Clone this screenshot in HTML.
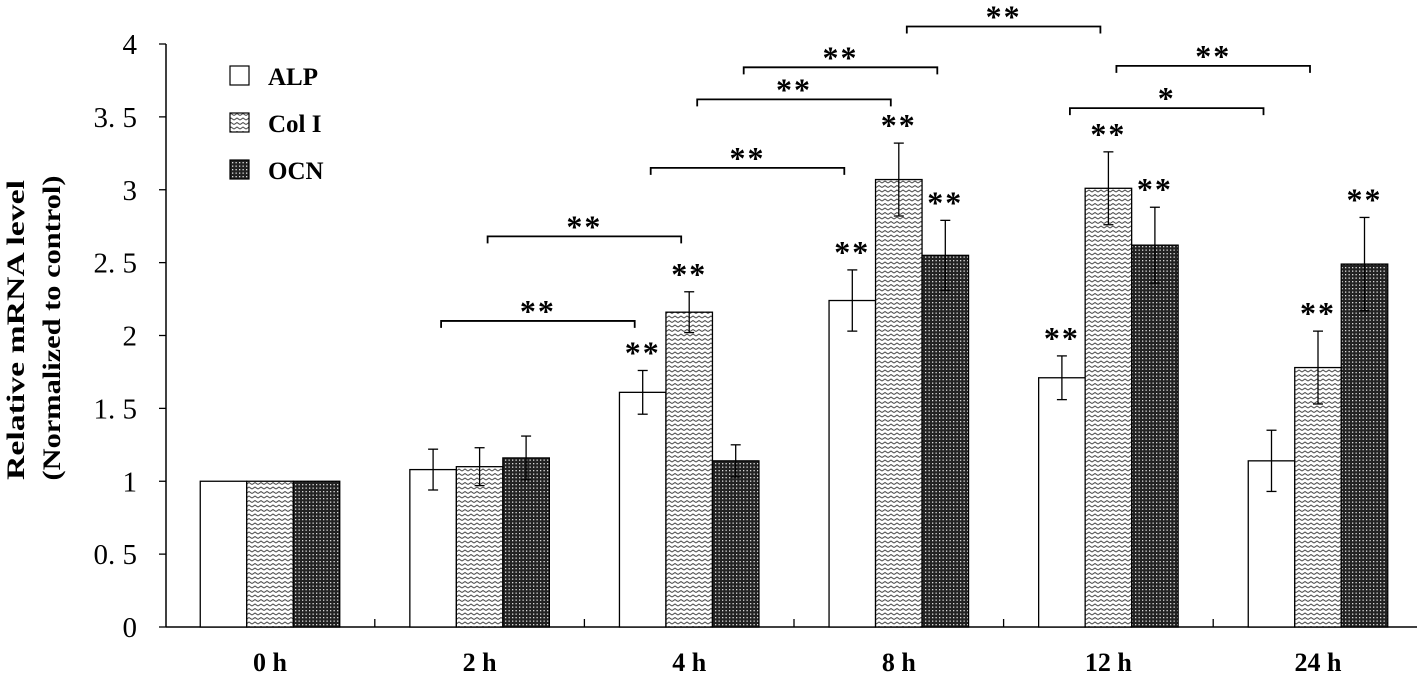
<!DOCTYPE html>
<html><head><meta charset="utf-8"><style>
body{margin:0;background:#fff;width:1417px;height:680px;overflow:hidden}
svg text{font-family:"Liberation Serif","Noto Serif CJK SC",serif}
</style></head><body>
<svg id="chart" width="1417" height="680" viewBox="0 0 1417 680" xmlns="http://www.w3.org/2000/svg">
<defs>
<pattern id="zig" width="6" height="4.5" patternUnits="userSpaceOnUse">
<rect width="6" height="4.5" fill="#fff"/>
<path d="M0,3 L3,1 L6,3" fill="none" stroke="#555" stroke-width="1.1"/>
</pattern>
<pattern id="dots" width="3.5" height="3.5" patternUnits="userSpaceOnUse">
<rect width="3.5" height="3.5" fill="#222"/>
<rect x="1" y="1" width="1.3" height="1.3" fill="#ddd"/>
</pattern>
</defs>
<g id="plot"></g>
</svg>
<script>
const categories=["0 h","2 h","4 h","8 h","12 h","24 h"];
const seriesNames=["ALP","Col I","OCN"];
const alp=[1,1.08,1.61,2.24,1.71,1.14];
const col=[1,1.10,2.16,3.07,3.01,1.78];
const ocn=[1,1.16,1.14,2.55,2.62,2.49];
const alpErr=[0,0.14,0.15,0.21,0.15,0.21];
const colErr=[0,0.13,0.14,0.25,0.25,0.25];
const ocnErr=[0,0.15,0.11,0.24,0.26,0.32];
const yTicks=[0,0.5,1,1.5,2,2.5,3,3.5,4];
const yTickLabels=["0","0. 5","1","1. 5","2","2. 5","3","3. 5","4"];
// significance marks above bars: [category, series, label]
const barStars=[[2,0,"**"],[2,1,"**"],[3,0,"**"],[3,1,"**"],[3,2,"**"],[4,0,"**"],[4,1,"**"],[4,2,"**"],[5,1,"**"],[5,2,"**"]];
// brackets: [cat1, series1, cat2, series2, value level, label]
const brackets=[[1,0,2,0,2.1,"**"],[1,1,2,1,2.68,"**"],[2,0,3,0,3.15,"**"],[2,1,3,1,3.62,"**"],[2,2,3,2,3.84,"**"],[3,1,4,1,4.12,"**"],[4,0,5,0,3.56,"*"],[4,1,5,1,3.85,"**"]];

const NS="http://www.w3.org/2000/svg";
const g=document.getElementById("plot");
const X0=166,Y0=627,Y4=44;
const y=v=>Y0-(Y0-Y4)*v/4;
const catX=i=>270+i*209.6;
const BW=46.5;
const barX=(i,s)=>catX(i)+(s-1.5)*BW;
function el(t,a,txt){const e=document.createElementNS(NS,t);for(const k in a)e.setAttribute(k,a[k]);if(txt!=null)e.textContent=txt;g.appendChild(e);return e;}

let e=el("line",{x1:X0,y1:Y4,x2:X0,y2:Y0,stroke:"#000","stroke-width":1.5});


e=el("line",{x1:X0,y1:Y0,x2:1417,y2:Y0,stroke:"#000","stroke-width":1.5});


yTicks.forEach((v,k)=>{
 el("line",{x1:X0-7,y1:y(v),x2:X0,y2:y(v),stroke:"#000","stroke-width":1.3});
 const t=el("text",{x:137,y:y(v)+10,"font-size":29,"text-anchor":"end"},yTickLabels[k]);
 
 
});
for(let i=1;i<6;i++){const xx=catX(i)-104.8;el("line",{x1:xx,y1:Y0-8,x2:xx,y2:Y0,stroke:"#000","stroke-width":1.3});}
categories.forEach((c,i)=>{
 const t=el("text",{x:catX(i),y:671,"font-size":26,"font-weight":"bold","text-anchor":"middle"},c);
 
 
});
let yt=el("text",{transform:"translate(24,330) rotate(-90)","font-size":25,"font-weight":"bold","text-anchor":"middle",textLength:300,lengthAdjust:"spacingAndGlyphs"},"Relative mRNA  level");


yt=el("text",{transform:"translate(60,328) rotate(-90)","font-size":25,"font-weight":"bold","text-anchor":"middle",textLength:305,lengthAdjust:"spacingAndGlyphs"},"(Normalized to control)");



const vals=[alp,col,ocn],errs=[alpErr,colErr,ocnErr],fills=["#fff","url(#zig)","url(#dots)"];
categories.forEach((c,i)=>{
 for(let s=0;s<3;s++){
  const v=vals[s][i],x=barX(i,s);
  const r=el("rect",{x:x,y:y(v),width:BW,height:Y0-y(v),fill:fills[s],stroke:"#000","stroke-width":1.3});
  
  
  const er=errs[s][i];
  if(er>0){const cx=x+BW/2;
   el("line",{x1:cx,y1:y(v+er),x2:cx,y2:y(v-er),stroke:"#000","stroke-width":1.3});
   el("line",{x1:cx-5,y1:y(v+er),x2:cx+5,y2:y(v+er),stroke:"#000","stroke-width":1.3});
   el("line",{x1:cx-5,y1:y(v-er),x2:cx+5,y2:y(v-er),stroke:"#000","stroke-width":1.3});
  }
 }
});
barStars.forEach(([i,s,l])=>{
 const top=vals[s][i]+errs[s][i];
 const t=el("text",{x:barX(i,s)+BW/2,y:y(top)-7,"font-size":32,"font-weight":"bold","text-anchor":"middle","letter-spacing":"2"},l);
 
 
});
brackets.forEach(([c1,s1,c2,s2,lv,l])=>{
 const x1=barX(c1,s1)+BW/2+8,x2=barX(c2,s2)+BW/2-8,yy=y(lv);
 const p=el("path",{d:`M${x1},${yy+7}V${yy}H${x2}V${yy+7}`,fill:"none",stroke:"#000","stroke-width":1.8});
 
 
 const t=el("text",{x:(x1+x2)/2,y:yy+1,"font-size":32,"font-weight":"bold","text-anchor":"middle","letter-spacing":"2"},l);
 
 
});
seriesNames.forEach((n,k)=>{
 const yy=66+k*47;
 const r=el("rect",{x:230,y:yy,width:19,height:19,fill:fills[k],stroke:"#000","stroke-width":1.2});
 
 
 const t=el("text",{x:268,y:yy+19,"font-size":25,"font-weight":"bold"},n);
 
 
});
</script>
</body></html>
